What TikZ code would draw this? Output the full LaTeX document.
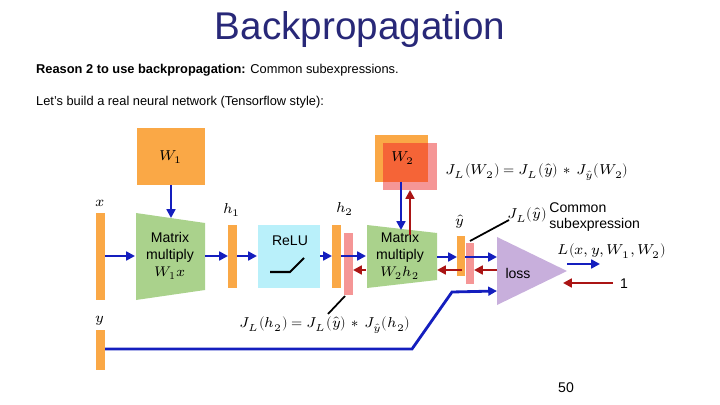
\documentclass[tikz,border=0pt]{standalone}
\usepackage{amsmath}
\usepackage{fontspec}
\setmainfont{Liberation Sans}
\usepackage{unicode-math}
\usepackage{tikz}
\usetikzlibrary{arrows.meta}
\definecolor{navy}{RGB}{40,40,120}
\definecolor{bar}{RGB}{250,168,70}
\definecolor{pinkbar}{RGB}{245,150,150}
\definecolor{overlap}{RGB}{245,100,55}
\definecolor{mmgreen}{RGB}{170,210,140}
\definecolor{relucyan}{RGB}{185,240,250}
\definecolor{losspurple}{RGB}{200,175,220}
\definecolor{fwd}{RGB}{20,30,190}
\definecolor{bwd}{RGB}{170,20,20}
\tikzset{
  fw/.style={draw=fwd,line width=1.6pt,-{Triangle[length=5pt,width=5pt]}},
  bw/.style={draw=bwd,line width=1.6pt,-{Triangle[length=5pt,width=5pt]}},
  box/.style={draw=none,inner sep=0pt,anchor=north west},
  lbl/.style={font=\fontsize{8}{9.5}\selectfont},
  eqn/.style={font=\fontsize{8.2}{9.5}\selectfont},
}
\begin{document}
\begin{tikzpicture}[x=0.02cm,y=-0.02cm]
        \useasboundingbox (0,0) rectangle (720,405);
        \node[text=navy,font=\fontsize{22}{26}\selectfont] (title) at (360,30) {Backpropagation};
        \node[anchor=west,font=\fontsize{7.3}{9}\selectfont] (reason) at (30,70) {\textbf{Reason 2 to use backpropagation:} Common subexpressions.};
        \node[anchor=west,font=\fontsize{7.3}{9}\selectfont] (build) at (30,102) {Let's build a real neural network (Tensorflow style):};

        % weights
        \node[box,fill=bar,minimum width=68*0.02cm,minimum height=57*0.02cm] (w1) at (137,128) {};
        \node[eqn] (w1t) at (171,157) {$W_1$};
        \node[box,fill=bar,minimum width=53*0.02cm,minimum height=47*0.02cm] (w2) at (375,135) {};
        \node[box,fill=pinkbar,minimum width=54*0.02cm,minimum height=47*0.02cm] (w2p) at (383,143) {};
        \fill[overlap] (383,143) rectangle (428,182);
        \node[eqn] (w2t) at (403,158) {$W_2$};

        % bars
        \node[box,fill=bar,minimum width=9*0.02cm,minimum height=87*0.02cm] (x) at (96,213) {};
        \node[box,fill=bar,minimum width=9*0.02cm,minimum height=40*0.02cm] (y) at (96,330) {};
        \node[box,fill=bar,minimum width=9*0.02cm,minimum height=63*0.02cm] (h1) at (228,225) {};
        \node[box,fill=bar,minimum width=9*0.02cm,minimum height=63*0.02cm] (h2) at (332,225) {};
        \node[box,fill=pinkbar,minimum width=9*0.02cm,minimum height=62*0.02cm] (h2p) at (344,233) {};
        \node[box,fill=bar,minimum width=8*0.02cm,minimum height=40*0.02cm] (yh) at (457,236) {};
        \node[box,fill=pinkbar,minimum width=8*0.02cm,minimum height=41*0.02cm] (yhp) at (466,243) {};
        \node[eqn] (xl) at (100,203) {$x$};
        \node[eqn] (yl) at (100,321) {$y$};
        \node[eqn] (h1l) at (232,210) {$h_1$};
        \node[eqn] (h2l) at (345,209) {$h_2$};
        \node[eqn] (yhl) at (460,222) {$\hat{y}$};

        % blocks
        \fill[mmgreen] (136,213) -- (205,223) -- (205,290) -- (136,300) -- cycle;
        \node[align=center,lbl,inner sep=0pt] (mm1) at (170,256) {Matrix\\multiply\\$W_1x$};
        \fill[mmgreen] (367,225) -- (437,233) -- (437,280) -- (367,288) -- cycle;
        \node[align=center,lbl,inner sep=0pt] (mm2) at (400,256) {Matrix\\multiply\\$W_2h_2$};
        \node[box,fill=relucyan,minimum width=62*0.02cm,minimum height=63*0.02cm] (relu) at (258,225) {};
        \node[lbl] (relut) at (290,241) {ReLU};
        \draw[line width=1.2pt] (270,272) -- (290,272) -- (304,258);
        \fill[losspurple] (497,237) -- (567,271) -- (497,305) -- cycle;
        \node[lbl] (loss) at (518,273) {loss};
        \coordinate (lossin) at (497,257);
        \coordinate (lossy) at (497,291);

        % forward
        \path[fw] (105,256) -- (135,256);
        \path[fw] (205,256) -- (228,256);
        \path[fw] (237,256) -- (257,256);
        \path[fw] (320,256) -- (332,256);
        \path[fw] (341,256) -- (366,256);
        \path[fw] (171,185) -- (171,218);
        \path[fw] (401,182) -- (401,230);
        \path[fw] (437,257) -- (457,257);
        \path[fw] (465,257) -- (lossin);
        \path[fw] (567,264) -- (600,264);
        \path[fw] (105,349) -- (412,349) -- (452,292) -- (lossy);

        % backward
        \path[bw] (410,235) -- (410,190);
        \path[bw] (366,270) -- (353,270);
        \path[bw] (462,270) -- (437,270);
        \path[bw] (497,270) -- (474,270);
        \path[bw] (613,283) -- (563,283);

        % labels
        \node[lbl] (one) at (624,284) {1};
        \node[eqn] (lout) at (612,251) {$L(x,y,W_1,W_2)$};
        \node[eqn] (jw2) at (537,172) {$J_L(W_2)=J_L(\hat{y})\,*\,J_{\hat{y}}(W_2)$};
        \node[eqn] (jy) at (527,215) {$J_L(\hat{y})$};
        \node[anchor=west,align=left,lbl,inner sep=0pt] (common) at (549,217) {Common\\subexpression};
        \draw[line width=1pt] (470,241) -- (509,220);
        \node[eqn] (jh2) at (325,325) {$J_L(h_2)=J_L(\hat{y})\,*\,J_{\hat{y}}(h_2)$};
        \draw[line width=1pt] (345,296) -- (328,314);
        \node[lbl] (page) at (566,388) {50};
\end{tikzpicture}
\end{document}
